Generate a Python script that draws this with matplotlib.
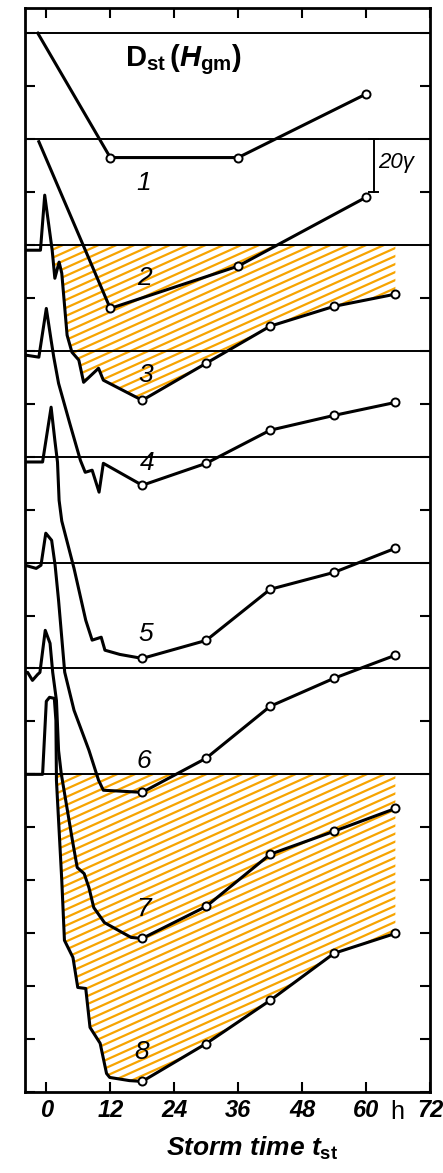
import numpy as np
import matplotlib
matplotlib.use('Agg')
import matplotlib.pyplot as plt
from matplotlib.transforms import blended_transform_factory

plt.rcParams['font.family'] = ['Liberation Sans', 'DejaVu Sans']
plt.rcParams['mathtext.fontset'] = 'custom'
plt.rcParams['mathtext.rm'] = 'Liberation Sans:bold'
plt.rcParams['mathtext.it'] = 'Liberation Sans:bold:italic'
plt.rcParams['mathtext.bf'] = 'Liberation Sans:bold'

# Dst(Hgm) in gamma against storm time (h), each curve taken from its own zero line
# hourly-mean points (open circles)
t_obs_12 = [12, 36, 60]
t_obs = [18, 30, 42, 54, 65.5]

d1 = [-47, -47, -23]
d2 = [-64, -48, -22]
d3 = [-58.7, -44.7, -30.7, -23.2, -18.6]
d4 = [-50.8, -42.5, -30.0, -24.4, -19.5]
d5 = [-76.2, -69.4, -50.1, -43.7, -34.6]
d6 = [-86.8, -73.9, -54.3, -43.7, -35.0]
d7 = [-102.0, -89.9, -70.2, -61.5, -52.9]
d8 = [-116.0, -101.7, -85.4, -67.6, -60.1]

# detailed trace of the sudden commencement and main phase
t1_sc = [-1.6]
d1_sc = [0]
t2_sc = [-1.4]
d2_sc = [-1]
t3_sc = [-4, -1.1, -0.3, 1.1, 1.6, 2.4, 2.9, 3.9, 4.8, 6.1, 7.0, 9.8, 10.7]
d3_sc = [-2, -2, 18.8, -2, -12.6, -6.5, -10.7, -34.1, -40.5, -43.5, -51.9, -46.6, -51.1]
t4_sc = [-4, -1.4, 0, 0.9, 1.4, 2.3, 4.4, 6.4, 7.3, 8.6, 9.9, 10.7]
d4_sc = [-1.6, -2.4, 16, 4, -2.4, -12.3, -27.4, -41.4, -45.9, -45.1, -53.4, -42.5]
t5_sc = [-4, -0.7, 0.9, 1.6, 2.1, 2.4, 2.9, 5.2, 7.4, 8.6, 10.3, 11.0, 13.8]
d5_sc = [-2, -2, 18.7, 6.2, -2.1, -16.5, -24.3, -42.2, -61.8, -69.3, -68.2, -73.1, -74.7]
t6_sc = [-4, -1.9, -1.0, -0.1, 1.0, 1.65, 2.3, 3.45, 5.2, 8.0, 9.8, 10.7]
d6_sc = [-1, -2.2, -1, 11.1, 8.4, -1, -14.3, -41.4, -55.8, -70.9, -82.2, -86]
t7_sc = [-4, -3.5, -2.6, -1.6, -1.2, -0.2, 0.7, 1.2, 1.9, 2.3, 2.8, 4.9, 5.8, 7.1, 8.0, 8.9, 10.9, 15.9]
d7_sc = [-1.5, -1.5, -4.5, -2.2, -1.5, 14.4, 9.5, -1.5, -12.1, -31, -39.7, -65, -75.2, -77.5, -82.8, -90.3, -96, -101.6]
t8_sc = [-4, -1.5, -0.7, 0, 0.6, 1.5, 1.8, 1.9, 2.9, 3.4, 5.0, 5.9, 7.4, 8.2, 10.1, 11.3, 11.9, 15.6]
d8_sc = [0, 0, 0, 27.6, 29.1, 28.7, 20.4, -2.3, -40, -62.7, -69.2, -80.5, -80.9, -95.6, -101.6, -113, -114.5, -115.7]

curve_names = ['1', '2', '3', '4', '5', '6', '7', '8']
xtick_vals = [0, 12, 24, 36, 48, 60, 72]

curves = [
    (t1_sc, d1_sc, t_obs_12, d1),
    (t2_sc, d2_sc, t_obs_12, d2),
    (t3_sc, d3_sc, t_obs, d3),
    (t4_sc, d4_sc, t_obs, d4),
    (t5_sc, d5_sc, t_obs, d5),
    (t6_sc, d6_sc, t_obs, d6),
    (t7_sc, d7_sc, t_obs, d7),
    (t8_sc, d8_sc, t_obs, d8),
]
step = 40            # gamma between successive zero lines
HATCH = '#f7a400'

# label placement (h, gamma below own zero line)
label_xy = [(18.3, -56.7), (18.5, -52.6), (18.6, -49.3), (19.0, -42.5),
            (18.6, -66.8), (18.3, -74.8), (18.3, -90.7), (17.9, -105)]

fig = plt.figure(figsize=(4.43, 11.73), dpi=100)
ax = fig.add_axes([25 / 443, 81 / 1173, 405 / 443, 1084 / 1173])


def hatch_between(ax, t, top, curve, start):
    t = np.asarray(t, float)
    curve = np.asarray(curve, float)
    region = ax.fill_between(t, top, np.minimum(curve, top), where=t >= start,
                             facecolor='none', edgecolor='none', lw=0)
    clip = region.get_paths()[0]
    for c in np.arange(-0.3, 1.0, 0.0074):
        ln, = ax.plot([0, 1], [c, c + 0.168], transform=ax.transAxes,
                      color=HATCH, lw=1.6, zorder=1, solid_capstyle='butt')
        ln.set_clip_path(clip, ax.transData)


for i, (ts, ds, tp, dp) in enumerate(curves):
    off = -step * i
    tt = list(ts) + list(tp)
    dd = np.array(list(ds) + list(dp)) + off
    ax.axhline(off, color='black', lw=1.4, zorder=2)
    ax.plot(tt, dd, color='black', lw=2.2, zorder=3, solid_joinstyle='round')
    ax.plot(tp, np.array(dp) + off, 'o', ms=5.8, mfc='white', mec='black',
            mew=1.4, zorder=4)
    lx, ly = label_xy[i]
    ax.text(lx, ly + off, curve_names[i], fontsize=19, fontstyle='italic',
            ha='center', va='center', zorder=5)
    if i == 2:
        hatch_between(ax, tt, off, dd, 1.0)
    if i == 7:
        hatch_between(ax, tt, off, dd, 1.8)

# 20 gamma scale bar
ax.plot([61.4, 61.4], [-40, -60], color='black', lw=1.4)
ax.plot([60.5, 62.3], [-40, -40], color='black', lw=1.4)
ax.plot([60.5, 62.3], [-60, -60], color='black', lw=1.4)
ax.text(62.3, -49, '20γ', fontsize=16, fontstyle='italic', va='center', ha='left')

ax.text(14.8, -12.5, r'$\mathrm{D}_{\mathrm{st}}\,(\mathit{H}_{\mathrm{gm}})$',
        fontsize=21, ha='left', va='baseline')

ax.set_xlim(-4, 72)
ax.set_ylim(-400, 9.5)
ax.set_xticks(xtick_vals)
ax.set_xticklabels([str(v) for v in xtick_vals], fontstyle='italic',
                   fontweight='bold', fontsize=17)
ax.set_yticks(np.arange(-400, 1, 20))
ax.set_yticklabels([])
ax.tick_params(axis='both', direction='in', length=7, width=1.5,
               top=True, right=True)
ax.tick_params(axis='x', pad=5)
for s in ax.spines.values():
    s.set_linewidth(2.0)

trans = blended_transform_factory(ax.transData, ax.transAxes)
ax.text(65.8, -0.018, 'h', transform=trans, fontsize=18, ha='center', va='center')
ax.text(0.56, -0.052, r'Storm time $t_{\mathrm{st}}$', transform=ax.transAxes,
        fontsize=19, fontstyle='italic', fontweight='bold', ha='center', va='center')

fig.savefig('out.png', dpi=100)
